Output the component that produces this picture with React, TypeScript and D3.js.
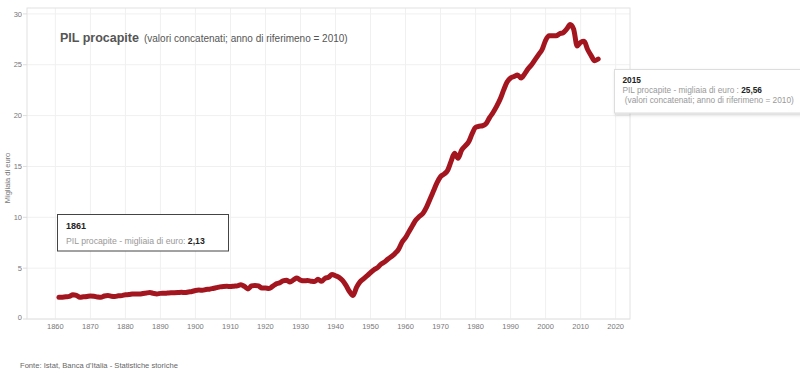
import React from 'react';
import * as d3 from 'd3';

// PIL procapite, migliaia di euro (valori concatenati, anno 2010), 1861-2015
const firstYear = 1861;
const pilValues = [
  2.13, 2.15, 2.18, 2.22, 2.38, 2.33, 2.14, 2.18, 2.22, 2.27, // 1861-1870
  2.24, 2.17, 2.13, 2.26, 2.30, 2.24, 2.22, 2.28, 2.30, 2.38, // 1871-1880
  2.40, 2.45, 2.47, 2.45, 2.50, 2.56, 2.60, 2.52, 2.47, 2.52, // 1881-1890
  2.53, 2.55, 2.57, 2.58, 2.60, 2.63, 2.60, 2.66, 2.71, 2.80, // 1891-1900
  2.84, 2.83, 2.90, 2.93, 3.00, 3.08, 3.16, 3.20, 3.21, 3.20, // 1901-1910
  3.23, 3.26, 3.38, 3.20, 2.95, 3.25, 3.30, 3.25, 3.05, 3.05, // 1911-1920
  3.00, 3.20, 3.45, 3.55, 3.75, 3.80, 3.65, 3.85, 4.02, 3.82, // 1921-1930
  3.75, 3.78, 3.72, 3.68, 3.90, 3.70, 4.00, 4.10, 4.38, 4.25, // 1931-1940
  4.10, 3.80, 3.30, 2.70, 2.30, 3.10, 3.65, 3.95, 4.25, 4.55, // 1941-1950
  4.85, 5.05, 5.40, 5.60, 5.90, 6.15, 6.45, 6.85, 7.55, 8.00, // 1951-1960
  8.60, 9.20, 9.75, 10.10, 10.40, 11.00, 11.80, 12.60, 13.40, 14.00, // 1961-1970
  14.25, 14.60, 15.50, 16.30, 15.80, 16.60, 17.00, 17.40, 18.20, 18.85, // 1971-1980
  18.95, 19.00, 19.20, 19.80, 20.30, 20.90, 21.60, 22.50, 23.30, 23.70, // 1981-1990
  23.85, 24.00, 23.70, 24.10, 24.60, 25.00, 25.50, 26.00, 26.50, 27.40, // 1991-2000
  27.85, 27.85, 27.85, 28.05, 28.15, 28.50, 28.95, 28.50, 26.85, 27.20, // 2001-2010
  27.30, 26.50, 25.90, 25.40, 25.56, // 2011-2015
];
const years = pilValues.map((_, i) => firstYear + i);

const xTicks = [1860, 1870, 1880, 1890, 1900, 1910, 1920, 1930, 1940, 1950, 1960, 1970, 1980, 1990, 2000, 2010, 2020];
const yTicks = [0, 5, 10, 15, 20, 25, 30];

const fmt = (v: number) => v.toFixed(2).replace('.', ',');

export default function App() {
  const width = 800;
  const height = 375;
  const plot = { left: 27, right: 630, top: 8, bottom: 319 };

  const x = d3.scaleLinear().domain([1851.9, 2024.1]).range([plot.left, plot.right]);
  const y = d3.scaleLinear().domain([0, 30.58]).range([plot.bottom, plot.top]);

  const line = d3.line<number>()
    .x((_, i) => x(years[i]))
    .y((d) => y(d))
    .curve(d3.curveMonotoneX);

  const font = "Arial, 'Liberation Sans', sans-serif";
  const first = pilValues[0];
  const last = pilValues[pilValues.length - 1];

  return (
    <svg width={width} height={height} style={{ position: 'absolute', left: 0, top: 0, background: '#fff' }} fontFamily={font}>
      <defs>
        <filter id="shadow" x="-10%" y="-20%" width="130%" height="160%">
          <feDropShadow dx="1" dy="1.5" stdDeviation="1.5" floodColor="#000" floodOpacity="0.18" />
        </filter>
      </defs>

      {/* grid */}
      {xTicks.map((t) => (
        <line key={'gx' + t} x1={x(t)} x2={x(t)} y1={plot.top} y2={plot.bottom} stroke="#f0f0f0" strokeWidth={1} />
      ))}
      {yTicks.map((t) => (
        <line key={'gy' + t} x1={plot.left} x2={plot.right} y1={y(t)} y2={y(t)} stroke="#f0f0f0" strokeWidth={1} />
      ))}
      <rect x={plot.left} y={plot.top} width={plot.right - plot.left} height={plot.bottom - plot.top} fill="none" stroke="#e2e2e2" strokeWidth={1} />

      {/* axes labels */}
      {yTicks.map((t) => (
        <g key={'yl' + t}>
          <line x1={plot.left - 4} x2={plot.left} y1={y(t)} y2={y(t)} stroke="#ddd" />
          <text x={22} y={y(t) - (t === 0 ? 2 : 0)} dy="0.35em" textAnchor="end" fontSize={7.5} fill="#777">{t}</text>
        </g>
      ))}
      {xTicks.map((t) => (
        <text key={'xl' + t} x={x(t)} y={plot.bottom + 10} textAnchor="middle" fontSize={7.5} fill="#777">{t}</text>
      ))}
      <text transform="translate(10,178) rotate(-90)" textAnchor="middle" fontSize={7.5} fill="#777">Migliaia di euro</text>

      {/* title */}
      <text x={60} y={42} fontSize={12.5} fill="#555">
        <tspan fontWeight="bold">PIL procapite</tspan>
        <tspan dx={5} fontSize={10}>(valori concatenati; anno di riferimeno = 2010)</tspan>
      </text>

      {/* series */}
      <path d={line(pilValues) || ''} fill="none" stroke="#a3161f" strokeWidth={5} strokeLinejoin="round" strokeLinecap="round" />

      {/* 1861 box */}
      <rect x={57.5} y={214.5} width={171} height={36.5} fill="#fff" stroke="#444" strokeWidth={1} />
      <text x={66} y={229} fontSize={9} fontWeight="bold" fill="#222">{years[0]}</text>
      <text x={66} y={243.5} fontSize={8.7} fill="#999">
        PIL procapite - migliaia di euro: <tspan fontWeight="bold" fill="#222">{fmt(first)}</tspan>
      </text>

      {/* 2015 box */}
      <rect x={614.5} y={69.5} width={200} height={43.5} fill="#fff" stroke="#ddd" strokeWidth={1} filter="url(#shadow)" />
      <text x={622.5} y={83} fontSize={8.3} fontWeight="bold" fill="#222">{years[years.length - 1]}</text>
      <text x={622.5} y={93} fontSize={8.3} fill="#999">
        PIL procapite - migliaia di euro : <tspan fontWeight="bold" fill="#222">{fmt(last)}</tspan>
      </text>
      <text x={622.5} y={103} fontSize={8.3} fill="#999" xmlSpace="preserve"> (valori concatenati; anno di riferimeno = 2010)</text>

      {/* source */}
      <text x={20} y={368} fontSize={7.6} fill="#666">Fonte: Istat, Banca d'Italia - Statistiche storiche</text>
    </svg>
  );
}
